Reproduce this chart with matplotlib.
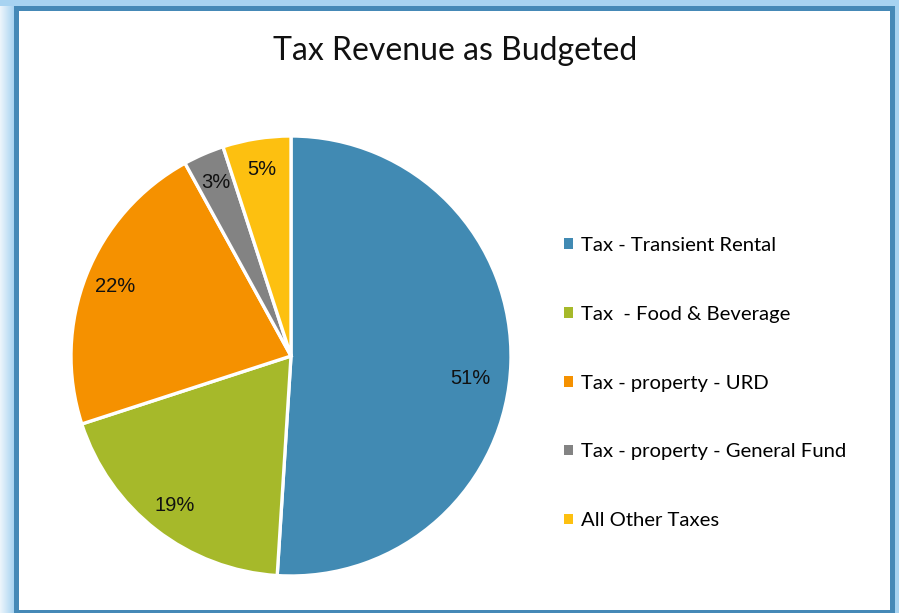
import matplotlib
matplotlib.use("Agg")
import numpy as np
import matplotlib.pyplot as plt
from matplotlib.patches import Rectangle, Patch

TEXT_FONT = ["Lato", "DejaVu Sans"]
PCT_FONT = ["Liberation Sans", "DejaVu Sans"]

W, H = 899, 613

categories = [
    "Tax - Transient Rental",
    "Tax  - Food & Beverage",
    "Tax - property - URD",
    "Tax - property - General Fund",
    "All Other Taxes",
]
shares = [51, 19, 22, 3, 5]
colors = ["#418ab3", "#a6b92a", "#f59100", "#838383", "#fdc010"]

FRAME = "#4589b7"
GLOW = "#a7d3f1"

fig = plt.figure(figsize=(W / 100, H / 100), dpi=100)
fig.patch.set_facecolor("white")

# background layer in pixel coords: glow + frame
bg = fig.add_axes([0, 0, 1, 1])
bg.set_xlim(0, W)
bg.set_ylim(H, 0)
bg.axis("off")

# soft glow on the left edge, solid strips elsewhere
grad = np.linspace(0, 1, 64).reshape(1, -1)
bg.imshow(grad, extent=(0, 14, H, 0), aspect="auto",
          cmap=matplotlib.colors.LinearSegmentedColormap.from_list("g", ["#eef6fc", GLOW]),
          zorder=1)
bg.add_patch(Rectangle((0, 0), W, 6, color=GLOW, lw=0, zorder=1))
bg.add_patch(Rectangle((895, 0), W - 895, H, color=GLOW, lw=0, zorder=1))

# dark blue frame, 5 px thick
bg.add_patch(Rectangle((14, 6), 881, 5, color=FRAME, lw=0, zorder=2))
bg.add_patch(Rectangle((14, 6), 5, H, color=FRAME, lw=0, zorder=2))
bg.add_patch(Rectangle((890, 6), 5, H, color=FRAME, lw=0, zorder=2))
bg.add_patch(Rectangle((14, 610), 881, 5, color=FRAME, lw=0, zorder=2))

fig.text(455 / W, 1 - 51 / H, "Tax Revenue as Budgeted", ha="center", va="center",
         fontsize=23, family=TEXT_FONT, color="#111111")

# pie: center (291, 356) px, radius 220 px
cx, cy, r = 291, 356, 220
ax = fig.add_axes([(cx - r) / W, (H - cy - r) / H, 2 * r / W, 2 * r / H])
wedges, _, pcts = ax.pie(
    shares, colors=colors, startangle=90, counterclock=False,
    autopct="%1.0f%%", pctdistance=0.86,
    wedgeprops=dict(edgecolor="white", linewidth=2.4),
    textprops=dict(fontsize=14.5, family=PCT_FONT, color="#111111"),
)
ax.set_xlim(-1, 1)
ax.set_ylim(-1, 1)
ax.set_aspect("equal")

# the big slice label sits a little lower and further in
w0 = wedges[0]
mid = np.deg2rad((w0.theta1 + w0.theta2) / 2 - 5.5)
pcts[0].set_position((0.82 * np.cos(mid), 0.82 * np.sin(mid)))

handles = [Patch(facecolor=c, edgecolor="none") for c in colors]
fig.legend(handles, categories, loc="center left",
           bbox_to_anchor=(546 / W, 1 - 383 / H), frameon=False,
           handlelength=0.42, handleheight=0.42, handletextpad=0.4,
           labelspacing=2.56, prop=dict(family=TEXT_FONT, size=14.6))

fig.savefig("out.png", dpi=100, facecolor="white")
